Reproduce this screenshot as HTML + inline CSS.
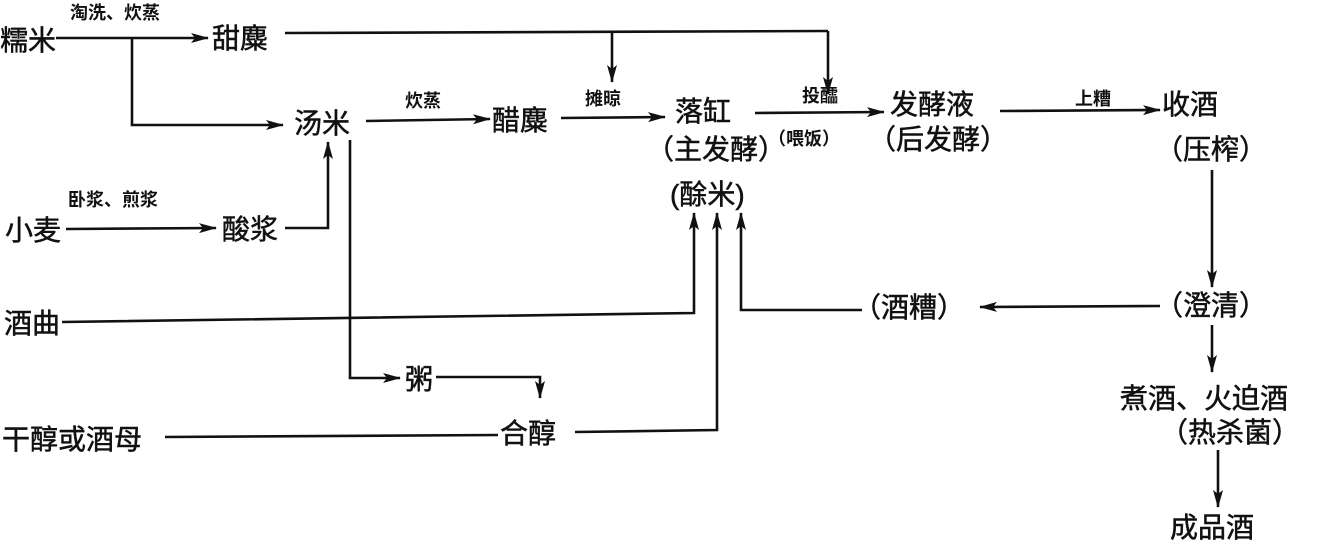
<!DOCTYPE html>
<html><head><meta charset="utf-8"><style>
html,body{margin:0;padding:0;background:#fff;}
svg{display:block;}
text{font-family:"Liberation Sans","Noto Sans CJK SC",sans-serif;fill:#111;}
.b{font-size:28px;stroke:#111;stroke-width:0.5px;}
.s{font-size:18px;font-weight:bold;}
</style></head><body>
<svg width="1327" height="545" viewBox="0 0 1327 545" xmlns="http://www.w3.org/2000/svg">
<defs><marker id="a" markerWidth="18" markerHeight="10" refX="17" refY="5" orient="auto" markerUnits="userSpaceOnUse"><path d="M0,0 L18,5 L0,10 L4,5 Z" fill="#111"/></marker></defs>
<g stroke="#111" stroke-width="2.6" fill="none">
<line x1="56" y1="38" x2="208" y2="38" marker-end="url(#a)"/>
<polyline points="132,38 132,125 283,125" marker-end="url(#a)"/>
<line x1="285" y1="33" x2="828" y2="31"/>
<line x1="612" y1="32" x2="612" y2="82" marker-end="url(#a)"/>
<line x1="828" y1="31" x2="828" y2="94" marker-end="url(#a)"/>
<line x1="366" y1="121" x2="490" y2="119" marker-end="url(#a)"/>
<line x1="561" y1="118" x2="665" y2="117" marker-end="url(#a)"/>
<line x1="755" y1="113" x2="884" y2="112" marker-end="url(#a)"/>
<line x1="1000" y1="111" x2="1160" y2="110" marker-end="url(#a)"/>
<line x1="66" y1="229" x2="216" y2="228" marker-end="url(#a)"/>
<polyline points="285,228 328,228 328,142" marker-end="url(#a)"/>
<polyline points="350,140 350,378 400,378" marker-end="url(#a)"/>
<polyline points="436,377 540,377 540,398" marker-end="url(#a)"/>
<line x1="165" y1="437" x2="498" y2="435"/>
<polyline points="575,432 717,430 717,213" marker-end="url(#a)"/>
<polyline points="62,322 694,313 694,213" marker-end="url(#a)"/>
<polyline points="862,310 741,310 741,213" marker-end="url(#a)"/>
<line x1="1160" y1="306" x2="980" y2="307" marker-end="url(#a)"/>
<line x1="1212" y1="170" x2="1212" y2="287" marker-end="url(#a)"/>
<line x1="1212" y1="325" x2="1212" y2="372" marker-end="url(#a)"/>
<line x1="1218" y1="450" x2="1218" y2="507" marker-end="url(#a)"/>
</g>
<text class="b" x="0" y="50">糯米</text>
<text class="s" x="70" y="19">淘洗、炊蒸</text>
<text class="b" x="212" y="48">甜麋</text>
<text class="b" x="294" y="133">汤米</text>
<text class="s" x="405" y="107">炊蒸</text>
<text class="b" x="492" y="130">醋麋</text>
<text class="s" x="585" y="105">摊晾</text>
<text class="b" x="675" y="121">落缸</text>
<text class="b" x="646" y="159">（主发酵）</text>
<text class="b" x="670" y="204">(酴米)</text>
<text class="s" x="802" y="102">投醽</text>
<text class="s" x="768" y="145">（喂饭）</text>
<text class="b" x="890" y="114">发酵液</text>
<text class="b" x="868" y="149">（后发酵）</text>
<text class="s" x="1075" y="105">上糟</text>
<text class="b" x="1162" y="114">收酒</text>
<text class="b" x="1155" y="159">（压榨）</text>
<text class="b" x="5" y="240">小麦</text>
<text class="s" x="68" y="206">卧浆、煎浆</text>
<text class="b" x="222" y="239">酸浆</text>
<text class="b" x="4" y="333">酒曲</text>
<text class="b" x="853" y="317">（酒糟）</text>
<text class="b" x="1155" y="315">（澄清）</text>
<text class="b" x="405" y="389">粥</text>
<text class="b" x="500" y="443">合醇</text>
<text class="b" x="2" y="449">干醇或酒母</text>
<text class="b" x="1120" y="408">煮酒、火迫酒</text>
<text class="b" x="1160" y="442">（热杀菌）</text>
<text class="b" x="1170" y="537">成品酒</text>
</svg>
</body></html>
